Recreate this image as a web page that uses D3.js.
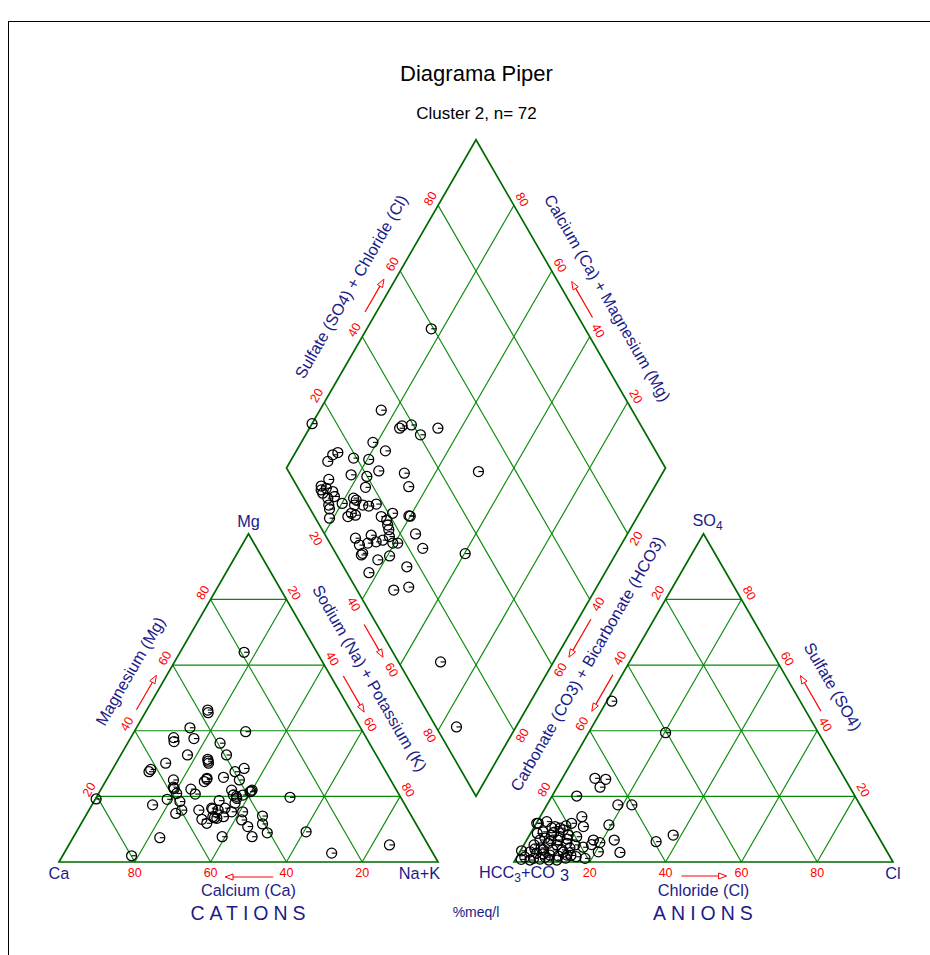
<!DOCTYPE html>
<html><head><meta charset="utf-8">
<script src="https://cdn.jsdelivr.net/npm/d3@7"></script>
<style>body{margin:0;background:#fff} svg{display:block}</style>
</head><body><svg id="c" width="930" height="955"></svg>
<script>
// ---------------- DATA ----------------
const tickValues = [20, 40, 60, 80];
const title = "Diagrama Piper";
const subtitle = "Cluster 2, n= 72";

// Cations (% meq/l): Mg and Na+K (Ca = 100 - Mg - NaK)
const cationMg = [63.9,46.3,45.5,40.9,39.7,37.9,36.7,37.6,36.2,32.6,32.6,31.3,30.1,30.7,30.1,28.2,27.5,28.5,27.5,25.8,
  25.5,24.5,25.0,25.0,22.4,22.2,20.7,20.9,19.1,18.4,18.7,21.9,20.4,19.4,21.4,21.9,20.4,17.9,19.2,17.4,
  19.7,14.8,15.8,15.8,16.4,15.8,16.4,15.3,15.3,13.0,11.8,13.8,13.3,13.8,12.8,14.0,11.6,10.8,8.9,7.7,
  7.7,7.4,9.2,1.9,2.7,5.2,22.8,20.0,13.5,16.1,21.6,25.2];
const cationNaK = [16.9,16.1,16.6,14.1,29.4,11.3,12.0,16.8,24.4,17.6,27.9,23.6,24.4,24.0,13.1,10.1,10.0,34.6,32.7,30.5,
  26.3,26.1,35.1,17.7,19.2,23.7,25.6,20.6,19.0,22.7,32.9,34.6,35.8,37.2,39.7,40.0,38.3,37.5,0.2,16.0,
  51.1,23.4,24.5,29.0,32.1,34.1,35.6,37.9,40.8,31.2,33.1,33.7,35.0,36.5,41.8,46.7,47.9,44.4,50.5,47.1,
  39.2,22.9,60.6,18.2,70.6,84.6,18.8,36.8,34.3,32.5,39.9,26.4];

// Anions (% meq/l): SO4 and Cl (HCO3+CO3 = 100 - SO4 - Cl)
const anionSO4 = [49.0,39.4,25.5,25.2,22.8,20.1,17.4,17.4,13.8,10.8,11.3,8.2,6.2,6.7,2.9,6.7,5.3,5.9,3.1,11.8,
  12.3,11.8,10.8,9.8,9.2,8.2,7.7,8.2,7.7,6.7,5.7,5.2,5.7,5.2,4.5,3.4,3.1,2.7,3.7,2.1,
  1.8,2.1,1.6,1.1,1.1,0.9,11.8,8.7,10.3,7.3,3.7,3.7,0.6,0.6,6.7,4.3,4.3,1.5,10.4,11.0,
  5.2,0.6,2.5,4.0,1.5,6.5,3.0,0.8,9.0,2.0,7.0,1.2];
const anionCl = [1.3,20.3,8.6,11.6,11.3,6.5,18.7,22.4,11.0,12.9,19.4,37.9,34.4,23.1,26.5,17.6,17.8,19.7,20.7,9.3,
  2.5,0.5,5.4,8.1,3.1,5.8,8.3,10.2,12.7,3.5,6.2,8.7,11.1,13.5,16.0,0.3,2.7,4.6,5.9,8.4,
  10.8,12.9,15.6,18.2,4.6,6.4,0.1,1.8,7.0,4.5,8.4,10.8,8.9,3.9,8.3,12.6,5.0,2.1,4.8,8.2,
  2.7,11.0,6.5,3.5,7.5,6.5,11.5,1.5,6.0,14.0,10.5,13.0];

// Diamond: Na+K and SO4+Cl
const diamondNaK = [17.0,16.2,0.0,23.8,24.1,26.4,30.3,33.9,51.2,18.9,23.5,10.2,11.2,9.9,16.2,20.4,24.8,18.1,22.5,31.9,
  35.1,23.8,12.9,11.9,12.5,13.4,13.6,15.8,17.0,15.5,16.8,17.6,19.0,20.1,22.3,23.6,23.3,24.0,23.6,25.4,
  25.8,27.5,29.2,32.4,34.4,35.4,36.4,34.9,39.6,44.1,48.2,28.9,31.0,33.1,33.0,32.6,34.9,32.9,36.4,37.6,
  39.5,40.8,38.1,40.6,37.7,46.8,46.9,50.4,60.2,70.2,84.3,40.0];
const diamondSO4Cl = [59.4,33.8,13.5,35.9,36.9,39.5,40.4,46.0,50.1,26.7,28.7,14.2,15.9,11.9,19.2,23.0,23.9,16.0,19.9,30.3,
  29.4,17.9,9.4,6.4,5.8,5.7,7.4,8.6,8.3,6.3,5.5,5.1,3.7,9.3,13.1,12.3,13.5,10.2,8.8,11.0,
  14.5,15.9,18.2,17.6,18.5,18.0,17.6,21.1,25.0,24.0,23.7,7.5,7.5,7.1,6.5,12.1,12.4,10.0,14.4,16.7,
  16.6,17.9,10.1,13.8,5.8,16.7,9.7,14.1,34.1,11.1,5.4,25.3];

// ---------------- DRAWING ----------------
const svg = d3.select("#c");
const FONT = "'Liberation Sans', Arial, sans-serif";
const BLUE = "#1c1c88", RED = "#ff0000", GREEN = "#0a8a0a", EDGE = "#006a00";
const L = 379, GAP = 76, BASE = 862, X0 = 59, S3 = Math.sqrt(3) / 2;
const pct = d3.scaleLinear().domain([0, 100]).range([0, L]);
const AX0 = X0 + L + GAP;
const cat = (mg, na) => [X0 + pct(na) + pct(mg) / 2, BASE - pct(mg) * S3];
const an = (so4, cl) => [AX0 + pct(cl) + pct(so4) / 2, BASE - pct(so4) * S3];
const DLx = X0 + L / 2 + GAP / 2, DLy = BASE - GAP * S3 - L * S3;
const dia = (na, a) => [DLx + (pct(na) + pct(a)) / 2, DLy + (pct(na) - pct(a)) * S3];

// frame
svg.append("rect").attr("x", 8.5).attr("y", 21.5).attr("width", 1000).attr("height", 1000)
  .attr("fill", "none").attr("stroke", "#000").attr("stroke-width", 1);

const gGrid = svg.append("g");
function seg(p, q, col, w) {
  gGrid.append("line").attr("x1", p[0]).attr("y1", p[1]).attr("x2", q[0]).attr("y2", q[1])
    .attr("stroke", col).attr("stroke-width", w);
}
tickValues.forEach(v => {
  seg(cat(v, 0), cat(v, 100 - v), GREEN, 1.15);
  seg(cat(0, v), cat(100 - v, v), GREEN, 1.15);
  seg(cat(0, 100 - v), cat(100 - v, 0), GREEN, 1.15);
  seg(an(v, 0), an(v, 100 - v), GREEN, 1.15);
  seg(an(0, v), an(100 - v, v), GREEN, 1.15);
  seg(an(0, 100 - v), an(100 - v, 0), GREEN, 1.15);
  seg(dia(v, 0), dia(v, 100), GREEN, 1.15);
  seg(dia(0, v), dia(100, v), GREEN, 1.15);
});
function poly(pts) {
  gGrid.append("path").attr("d", "M" + pts.map(p => p.join(",")).join("L") + "Z")
    .attr("fill", "none").attr("stroke", EDGE).attr("stroke-width", 1.7).attr("stroke-linejoin", "miter");
}
poly([cat(0, 0), cat(0, 100), cat(100, 0)]);
poly([an(0, 0), an(0, 100), an(100, 0)]);
poly([dia(0, 0), dia(0, 100), dia(100, 100), dia(100, 0)]);

// points
const gPts = svg.append("g");
const R = 5;
function dot(p) {
  gPts.append("circle").attr("cx", p[0]).attr("cy", p[1]).attr("r", R)
    .attr("fill", "none").attr("stroke", "#000").attr("stroke-width", 1.25);
  gPts.append("line").attr("x1", p[0]).attr("y1", p[1]).attr("x2", p[0] + R).attr("y2", p[1])
    .attr("stroke", "#000").attr("stroke-width", 1.1);
}
cationMg.forEach((m, i) => dot(cat(m, cationNaK[i])));
anionSO4.forEach((s, i) => dot(an(s, anionCl[i])));
diamondNaK.forEach((n, i) => dot(dia(n, diamondSO4Cl[i])));

// text helpers
const gTxt = svg.append("g").attr("font-family", FONT);
function txt(s, x, y, size, col, rot, anchor) {
  const t = gTxt.append("text").attr("x", x).attr("y", y).attr("font-size", size).attr("fill", col)
    .attr("text-anchor", anchor || "middle").attr("dominant-baseline", "central").text(s);
  if (rot) t.attr("transform", `rotate(${rot},${x},${y})`);
  return t;
}
const U = { up: [0.5, -S3], upL: [-0.5, -S3], down: [0.5, S3] };
function off(p, n, d, u, a) { return [p[0] + n[0] * d + (u ? u[0] * a : 0), p[1] + n[1] * d + (u ? u[1] * a : 0)]; }
const nL = [-S3, -0.5], nR = [S3, -0.5], nLL = [-S3, 0.5], nLR = [S3, 0.5];
const TS = 12.5;

tickValues.forEach(v => {
  txt(String(v), cat(0, 100 - v)[0], BASE + 11, TS, RED);
  let p = off(cat(v, 0), nL, 10, U.up, 2); txt(String(v), p[0], p[1], TS, RED, -60);
  p = off(cat(100 - v, v), nR, 10, U.upL, 1.5); txt(String(v), p[0], p[1], TS, RED, 60);
  txt(String(v), an(0, v)[0], BASE + 11, TS, RED);
  p = off(an(100 - v, 0), nL, 10, U.up, 2); txt(String(v), p[0], p[1], TS, RED, -60);
  p = off(an(v, 100 - v), nR, 10, U.upL, 1.5); txt(String(v), p[0], p[1], TS, RED, 60);
  p = off(dia(0, v), nL, 10, U.up, 2); txt(String(v), p[0], p[1], TS, RED, -60);
  p = off(dia(100 - v, 100), nR, 10, U.down, -1); txt(String(v), p[0], p[1], TS, RED, 60);
  p = off(dia(v, 0), nLL, 10); txt(String(v), p[0], p[1], TS, RED, 60);
  p = off(dia(100, 100 - v), nLR, 10); txt(String(v), p[0], p[1], TS, RED, -60);
});

// arrows
const gArr = svg.append("g");
function arrow(p, q) {
  const dx = q[0] - p[0], dy = q[1] - p[1], len = Math.hypot(dx, dy);
  const ux = dx / len, uy = dy / len, hl = 8, hw = 3;
  const b = [q[0] - ux * hl, q[1] - uy * hl];
  gArr.append("line").attr("x1", p[0]).attr("y1", p[1]).attr("x2", b[0]).attr("y2", b[1])
    .attr("stroke", RED).attr("stroke-width", 1.2);
  gArr.append("path").attr("d", `M${q[0]},${q[1]}L${b[0] - uy * hw},${b[1] + ux * hw}L${b[0] + uy * hw},${b[1] - ux * hw}Z`)
    .attr("fill", "#fff").attr("stroke", RED).attr("stroke-width", 1);
}
function edgeArrow(o, u, n, t1, t2, d) {
  arrow(off([o[0] + u[0] * L * t1, o[1] + u[1] * L * t1], n, d), off([o[0] + u[0] * L * t2, o[1] + u[1] * L * t2], n, d));
}
edgeArrow(cat(0, 0), U.up, nL, 0.45, 0.555, 9);
edgeArrow(cat(0, 100), U.upL, nR, 0.55, 0.44, 11);
edgeArrow(dia(0, 0), U.up, nL, 0.46, 0.56, 10);
edgeArrow(dia(0, 100), U.down, nR, 0.56, 0.45, 12);
edgeArrow(dia(0, 0), U.down, nLL, 0.46, 0.56, 11);
edgeArrow(dia(100, 0), U.up, nLR, 0.556, 0.44, 11);
edgeArrow(an(0, 0), U.up, nL, 0.558, 0.447, 8);
edgeArrow(an(0, 100), U.upL, nR, 0.44, 0.548, 13);
arrow([X0 + L * 0.565, BASE + 15], [X0 + L * 0.438, BASE + 15]);
arrow([AX0 + L * 0.442, BASE + 14], [AX0 + L * 0.561, BASE + 14]);

// axis titles along edges
const AS = 16.3;
function edgeTitle(s, o, u, n, t, d, rot) {
  const p = off([o[0] + u[0] * L * t, o[1] + u[1] * L * t], n, d);
  txt(s, p[0], p[1], AS, BLUE, rot);
}
edgeTitle("Magnesium (Mg)", cat(0, 0), U.up, nL, 0.53, 34, -60);
edgeTitle("Sodium (Na) + Potassium (K)", cat(0, 100), U.upL, nR, 0.51, 33, 60);
edgeTitle("Sulfate (SO4) + Chloride (Cl)", dia(0, 0), U.up, nL, 0.5, 35, -60);
edgeTitle("Calcium (Ca) + Magnesium (Mg)", dia(0, 100), U.down, nR, 0.535, 35, 60);
edgeTitle("Carbonate (CO3) + Bicarbonate (HCO3)", an(0, 0), U.up, nL, 0.55, 36, -60);
edgeTitle("Sulfate (SO4)", an(0, 100), U.upL, nR, 0.48, 36, 60);

// vertex labels
txt("Ca", cat(0, 0)[0], BASE + 11, AS, BLUE);
txt("Na+K", cat(0, 100)[0] + 2, BASE + 11, AS, BLUE, 0, "end");
txt("Mg", cat(100, 0)[0], cat(100, 0)[1] - 13, AS, BLUE);
txt("Cl", an(0, 100)[0], BASE + 11, AS, BLUE);
const so4 = gTxt.append("text").attr("x", an(100, 0)[0] + 4).attr("y", an(100, 0)[1] - 8)
  .attr("font-size", AS).attr("fill", BLUE).attr("text-anchor", "middle");
so4.append("tspan").text("SO");
so4.append("tspan").attr("font-size", 12).attr("dy", 4).text("4");
const hc = gTxt.append("text").attr("x", AX0 - 35).attr("y", BASE + 16)
  .attr("font-size", AS).attr("fill", BLUE);
hc.append("tspan").text("HCC");
hc.append("tspan").attr("font-size", 12).attr("dy", 4).text("3");
hc.append("tspan").attr("dy", -4).text("+CO");
hc.append("tspan").attr("dy", 3).attr("dx", 5).text("3");

// bottom titles
txt("Calcium (Ca)", X0 + L / 2, BASE + 28, AS, BLUE);
txt("Chloride (Cl)", AX0 + L / 2, BASE + 28, AS, BLUE);
txt("CATIONS", X0 + L / 2 + 2, BASE + 51, 19.5, BLUE).attr("letter-spacing", 5);
txt("ANIONS", AX0 + L / 2 + 2, BASE + 51, 19.5, BLUE).attr("letter-spacing", 5);
txt("%meq/l", DLx + L / 2, BASE + 50, 14, BLUE);

// titles
txt(title, 476.5, 73, 22, "#000");
txt(subtitle, 476.5, 113, 17, "#000");
</script></body></html>
